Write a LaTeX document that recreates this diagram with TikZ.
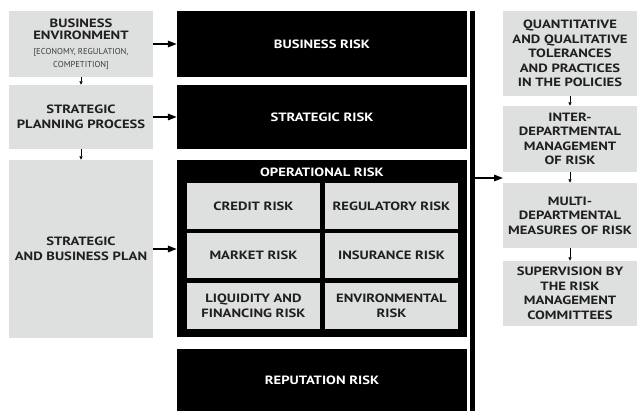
\documentclass[tikz,border=0pt]{standalone}
\usepackage{fontspec}
\setmainfont[BoldFeatures={FakeStretch=1.22}]{PT Sans}
\usetikzlibrary{arrows.meta}

\definecolor{boxgrey}{HTML}{DEE0DF}
\definecolor{notegrey}{HTML}{3C3C3C}

%% Shared looks for the risk map
\tikzset{
  riskbox/.style={fill=black, text=white, inner sep=0pt, align=center,
    font=\bfseries\fontsize{12}{14.5}\selectfont},
  infobox/.style={fill=boxgrey, text=black!88, inner sep=0pt, align=center,
    font=\bfseries\fontsize{12}{14.5}\selectfont},
  bigarrow/.style={line width=1.6pt, -{Triangle[length=9pt,width=6.5pt]}},
  smallarrow/.style={line width=0.7pt, -{Triangle[length=3.5pt,width=3pt]}}
}
\newcommand{\note}[1]{{\mdseries\color{notegrey}\fontsize{8.6}{12}\selectfont #1}}

\begin{document}
\begin{tikzpicture}[x=1pt,y=-1pt]
\useasboundingbox (0,0) rectangle (637,411);

%% left column: where the plan comes from
\node[infobox, minimum width=144pt, minimum height=66pt] (env) at (81,44)
  {BUSINESS\\[-2.5pt]ENVIRONMENT\\\note{[ECONOMY, REGULATION,}\\[-1.5pt]\note{COMPETITION]}};
\node[infobox, minimum width=144pt, minimum height=64pt] (process) at (81,117)
  {STRATEGIC\\PLANNING PROCESS};
\node[infobox, minimum width=144pt, minimum height=178pt] (plan) at (81,249)
  {STRATEGIC\\AND BUSINESS PLAN};

%% middle column: the risks
\node[riskbox, minimum width=290pt, minimum height=66pt] (business) at (322,44)
  {BUSINESS RISK};
\node[riskbox, minimum width=290pt, minimum height=64pt] (strategic) at (322,117)
  {STRATEGIC RISK};
\node[riskbox, minimum width=290pt, minimum height=177pt] (oper) at (322,248.5) {};
\node[riskbox, minimum width=290pt, minimum height=62pt] (reputation) at (322,380)
  {REPUTATION RISK};
\node[text=white, font=\bfseries\fontsize{12}{14.5}\selectfont] (opertitle) at (322,172)
  {OPERATIONAL RISK};

%% operational sub-risks, two per row
\foreach \name/\x/\y/\h/\txt in {
    credit/253.5/206/46/CREDIT RISK,
    regulatory/391.5/206/46/REGULATORY RISK,
    market/253.5/255.5/45/MARKET RISK,
    insurance/391.5/255.5/45/INSURANCE RISK,
    liquidity/253.5/306/46/{LIQUIDITY AND\\FINANCING RISK},
    environmental/391.5/306/46/{ENVIRONMENTAL\\RISK}}
  \node[infobox, minimum width=133pt, minimum height=\h pt] (\name) at (\x,\y) {\txt};

%% the dividing bar
\node[fill=black, inner sep=0pt, minimum width=5pt, minimum height=400pt] (bar) at (472.5,211) {};

%% right column: how the risks are handled
\node[infobox, minimum width=134pt, minimum height=85pt] (tolerances) at (570,53.5)
  {QUANTITATIVE\\AND QUALITATIVE\\TOLERANCES\\AND PRACTICES\\IN THE POLICIES};
\node[infobox, minimum width=134pt, minimum height=66pt] (inter) at (570,139)
  {INTER-\\DEPARTMENTAL\\MANAGEMENT\\OF RISK};
\node[infobox, minimum width=134pt, minimum height=65pt] (multi) at (570,215.5)
  {MULTI-\\DEPARTMENTAL\\MEASURES OF RISK};
\node[infobox, minimum width=134pt, minimum height=65pt] (supervision) at (570,293.5)
  {SUPERVISION BY\\THE RISK\\MANAGEMENT\\COMMITTEES};

%% arrows
\draw[bigarrow] (env.east) -- (business.west);
\draw[bigarrow] (process.east) -- (strategic.west);
\draw[bigarrow] (plan.east) -- (plan.east -| oper.west);
\coordinate (rightin) at (503,178);
\draw[bigarrow] (bar.east |- rightin) -- (rightin);

\draw[smallarrow] (env.south) -- (process.north);
\draw[smallarrow] (process.south) -- (plan.north);
\draw[smallarrow] (tolerances.south) -- (inter.north);
\draw[smallarrow] (inter.south) -- (multi.north);
\draw[smallarrow] (multi.south) -- (supervision.north);
\end{tikzpicture}
\end{document}
